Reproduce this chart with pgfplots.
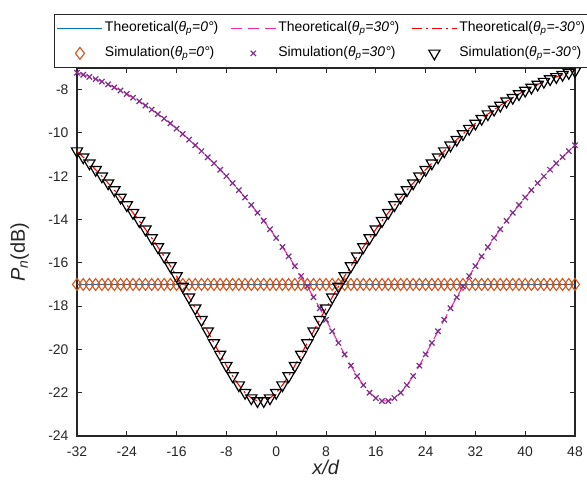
\documentclass[border=0pt]{standalone}
\usepackage{pgfplots}
\pgfplotsset{compat=1.18}
\usepackage{pgfplotstable}
\usepackage{fontspec}
\setmainfont{Liberation Sans}

\definecolor{axgray}{RGB}{38,38,38}
\definecolor{mblue}{RGB}{0,114,189}
\definecolor{mpink}{RGB}{240,40,170}
\definecolor{morange}{RGB}{217,83,25}
\definecolor{mpurple}{RGB}{126,47,142}

\newcommand{\tp}[1]{\textit{θ}\textsubscript{\textit{p}}\textit{=#1°}}

% x, theta_p=-30 (tm), theta_p=30 (tp), theta_p=0 (z)
\pgfplotstableread{
x tm tp z
-32 -10.84 -7.22 -17
-31 -11.12 -7.31 -17
-30 -11.40 -7.41 -17
-29 -11.70 -7.51 -17
-28 -12.00 -7.63 -17
-27 -12.32 -7.76 -17
-26 -12.64 -7.90 -17
-25 -12.98 -8.04 -17
-24 -13.33 -8.20 -17
-23 -13.69 -8.37 -17
-22 -14.06 -8.54 -17
-21 -14.45 -8.73 -17
-20 -14.85 -8.92 -17
-19 -15.27 -9.13 -17
-18 -15.70 -9.34 -17
-17 -16.15 -9.56 -17
-16 -16.61 -9.80 -17
-15 -17.09 -10.05 -17
-14 -17.59 -10.31 -17
-13 -18.10 -10.57 -17
-12 -18.63 -10.84 -17
-11 -19.16 -11.12 -17
-10 -19.70 -11.40 -17
-9 -20.23 -11.70 -17
-8 -20.75 -12.00 -17
-7 -21.23 -12.32 -17
-6 -21.65 -12.64 -17
-5 -22.00 -12.98 -17
-4 -22.25 -13.33 -17
-3 -22.38 -13.69 -17
-2 -22.38 -14.06 -17
-1 -22.25 -14.45 -17
0 -22.00 -14.85 -17
1 -21.65 -15.27 -17
2 -21.23 -15.70 -17
3 -20.75 -16.15 -17
4 -20.23 -16.61 -17
5 -19.70 -17.09 -17
6 -19.16 -17.59 -17
7 -18.63 -18.10 -17
8 -18.10 -18.63 -17
9 -17.59 -19.16 -17
10 -17.09 -19.70 -17
11 -16.61 -20.23 -17
12 -16.15 -20.75 -17
13 -15.70 -21.23 -17
14 -15.27 -21.65 -17
15 -14.85 -22.00 -17
16 -14.45 -22.25 -17
17 -14.06 -22.38 -17
18 -13.69 -22.38 -17
19 -13.33 -22.25 -17
20 -12.98 -22.00 -17
21 -12.64 -21.65 -17
22 -12.32 -21.23 -17
23 -12.00 -20.75 -17
24 -11.70 -20.23 -17
25 -11.40 -19.70 -17
26 -11.12 -19.16 -17
27 -10.84 -18.63 -17
28 -10.57 -18.10 -17
29 -10.31 -17.59 -17
30 -10.05 -17.09 -17
31 -9.80 -16.61 -17
32 -9.56 -16.15 -17
33 -9.34 -15.70 -17
34 -9.13 -15.27 -17
35 -8.92 -14.85 -17
36 -8.73 -14.45 -17
37 -8.54 -14.06 -17
38 -8.37 -13.69 -17
39 -8.20 -13.33 -17
40 -8.04 -12.98 -17
41 -7.90 -12.64 -17
42 -7.76 -12.32 -17
43 -7.63 -12.00 -17
44 -7.51 -11.70 -17
45 -7.41 -11.40 -17
46 -7.31 -11.12 -17
47 -7.22 -10.84 -17
48 -7.14 -10.57 -17
}\datatab

\begin{document}
\begin{tikzpicture}
\useasboundingbox (-77bp,-50bp) rectangle (510bp,436bp);
\begin{axis}[
    scale only axis,
    width=498bp, height=368bp,
    xmin=-32, xmax=48, ymin=-24, ymax=-7,
    xtick={-32,-24,...,48},
    ytick={-24,-22,...,-8},
    tick align=inside,
    major tick length=5bp,
    axis line style={line width=1.3bp, axgray},
    tick style={line width=1bp, axgray},
    ticklabel style={font=\fontsize{14}{16}\selectfont, text=axgray},
    xticklabel style={yshift=-7bp},
    yticklabel style={xshift=-5bp},
    /pgf/number format/assume math mode=true,
    xlabel={\textit{x/d}},
    ylabel={\textit{P}\textsubscript{\textit{n}}(dB)},
    label style={font=\fontsize{20}{22}\selectfont, text=axgray},
    xlabel style={at={(axis description cs:0.5,-0.085)}, anchor=center},
    ylabel style={at={(axis description cs:-0.115,0.5)}, anchor=center},
    clip mode=individual,
    legend columns=3,
    legend style={at={(axis description cs:0.5,1)}, anchor=south, xshift=-4bp,
        draw=axgray, line width=0.8bp, fill=white,
        font=\fontsize{14}{16}\selectfont,
        nodes={text height=11.5bp, text depth=6bp, inner ysep=3.5bp},
        /tikz/every even column/.append style={column sep=10bp}},
    legend cell align=left,
    legend image code/.code={
        \draw[mark repeat=2,mark phase=2,#1] plot coordinates {(0bp,0bp) (22.5bp,0bp) (45bp,0bp)};},
]
\addplot[mblue, draw=mblue, line width=1.1bp, no marks] table[x=x,y=z]{\datatab};
\addlegendentry{Theoretical(\tp{0})}
\addplot[mpink, draw=mpink, line width=1.1bp, dash pattern=on 11bp off 6bp, no marks] table[x=x,y=tp]{\datatab};
\addlegendentry{Theoretical(\tp{30})}
\addplot[red, draw=red, line width=1.1bp, dash pattern=on 10bp off 4bp on 2bp off 4bp, no marks] table[x=x,y=tm]{\datatab};
\addlegendentry{Theoretical(\tp{-30})}
\addplot[morange, only marks, mark=diamond, mark size=6pt, mark options={line width=1.1bp}] table[x=x,y=z]{\datatab};
\addlegendentry{Simulation(\tp{0})}
\addplot[mpurple, only marks, mark=x, mark size=3.8pt, mark options={line width=1.2bp}] table[x=x,y=tp]{\datatab};
\addlegendentry{Simulation(\tp{30})}
\addplot[black, only marks, mark=triangle, mark size=6.5pt, mark options={rotate=180, line width=1.2bp}] table[x=x,y=tm]{\datatab};
\addlegendentry{Simulation(\tp{-30})}
\end{axis}
\end{tikzpicture}
\end{document}
